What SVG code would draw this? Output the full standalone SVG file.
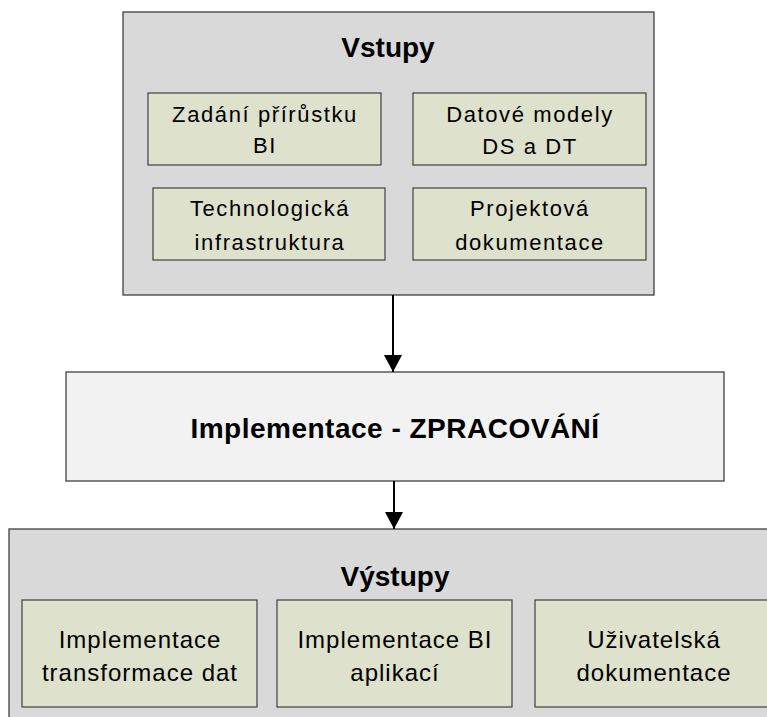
<svg xmlns="http://www.w3.org/2000/svg" width="767" height="717" viewBox="0 0 767 717">
<style>
.outer{fill:#d9d9d9;stroke:#404040;stroke-width:1.3}
.inner{fill:#dee1cc;stroke:#404040;stroke-width:1.2}
.proc{fill:#f2f2f2;stroke:#404040;stroke-width:1.3}
.title{font-family:"Liberation Sans",Arial,sans-serif;font-weight:bold;font-size:28px;fill:#000;text-anchor:middle}
.t{font-family:"Liberation Sans",Arial,sans-serif;font-size:22px;letter-spacing:1.6px;fill:#000;text-anchor:middle}
.tb{font-family:"Liberation Sans",Arial,sans-serif;font-size:24px;letter-spacing:1px;fill:#000;text-anchor:middle}
.conn{stroke:#000;stroke-width:2;fill:none}
</style>
<defs>
<marker id="ah" markerUnits="userSpaceOnUse" markerWidth="18" markerHeight="18" viewBox="0 0 18 18" refX="17" refY="9" orient="auto">
<path d="M0,0 L17,9 L0,18 Z" fill="#000"/>
</marker>
</defs>
<g id="vstupy">
<rect class="outer" x="123" y="12" width="531" height="283"/>
<text class="title" x="388" y="57">Vstupy</text>
</g>
<g id="zadani">
<rect class="inner" x="148" y="93" width="233" height="72"/>
<text class="t" x="265" y="122">Zadání přírůstku</text>
<text class="t" x="265" y="153">BI</text>
</g>
<g id="datove">
<rect class="inner" x="413" y="93" width="233" height="72"/>
<text class="t" x="530" y="122">Datové modely</text>
<text class="t" x="530" y="154">DS a DT</text>
</g>
<g id="technologicka">
<rect class="inner" x="153" y="188" width="232" height="72"/>
<text class="t" x="270" y="216">Technologická</text>
<text class="t" x="270" y="250">infrastruktura</text>
</g>
<g id="projektova">
<rect class="inner" x="413" y="188" width="233" height="72"/>
<text class="t" x="530" y="216">Projektová</text>
<text class="t" x="530" y="250">dokumentace</text>
</g>
<g id="zpracovani">
<rect class="proc" x="66" y="372" width="658" height="109"/>
<text class="title" x="395" y="438" style="letter-spacing:0.5px">Implementace - ZPRACOVÁNÍ</text>
</g>
<g id="vystupy">
<rect class="outer" x="9" y="529" width="770" height="200"/>
<text class="title" x="395" y="586">Výstupy</text>
</g>
<g id="transformace">
<rect class="inner" x="22" y="600" width="235" height="107"/>
<text class="tb" x="140" y="648">Implementace</text>
<text class="tb" x="140" y="681">transformace dat</text>
</g>
<g id="aplikaci">
<rect class="inner" x="277" y="600" width="235" height="107"/>
<text class="tb" x="395" y="648">Implementace BI</text>
<text class="tb" x="395" y="681">aplikací</text>
</g>
<g id="uzivatelska">
<rect class="inner" x="535" y="600" width="238" height="107"/>
<text class="tb" x="654" y="648">Uživatelská</text>
<text class="tb" x="654" y="681">dokumentace</text>
</g>
<g id="connectors">
<line class="conn" x1="393" y1="295" x2="393" y2="372" marker-end="url(#ah)"/>
<line class="conn" x1="394" y1="481" x2="394" y2="529" marker-end="url(#ah)"/>
</g>
</svg>
